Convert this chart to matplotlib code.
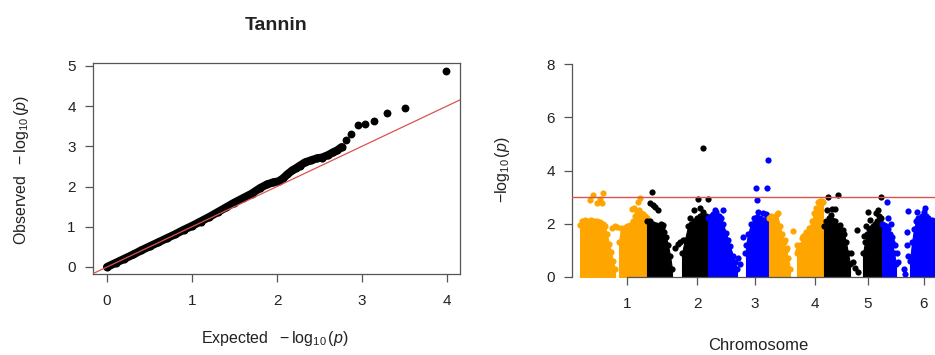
import matplotlib
matplotlib.use('Agg')
import matplotlib.pyplot as plt

plt.rcParams['font.family'] = ['Liberation Sans', 'DejaVu Sans']
plt.rcParams['mathtext.fontset'] = 'custom'
plt.rcParams['mathtext.rm'] = 'Liberation Sans'
plt.rcParams['mathtext.it'] = 'Liberation Sans:italic'
plt.rcParams['mathtext.bf'] = 'Liberation Sans:bold'

# ---------------- QQ plot data ----------------
qq_dense_expected = [0, 0.1, 0.2, 0.31, 0.4, 0.5, 0.6, 0.7, 0.8, 0.9, 1.0, 1.1, 1.2, 1.3,
                     1.4, 1.49, 1.6, 1.7, 1.8, 1.88, 1.95, 2.02, 2.07, 2.12, 2.18, 2.22,
                     2.27, 2.33, 2.4, 2.47, 2.53, 2.6, 2.66, 2.71, 2.76]
qq_dense_observed = [0, 0.1, 0.2, 0.31, 0.41, 0.51, 0.61, 0.71, 0.81, 0.92, 1.02, 1.13, 1.24,
                     1.36, 1.48, 1.59, 1.71, 1.82, 1.96, 2.05, 2.1, 2.13, 2.2, 2.3, 2.4, 2.45,
                     2.52, 2.6, 2.65, 2.7, 2.72, 2.78, 2.85, 2.9, 2.98]
qq_tail_expected = [2.81, 2.87, 2.95, 3.03, 3.14, 3.29, 3.51, 3.99]
qq_tail_observed = [3.15, 3.31, 3.52, 3.56, 3.63, 3.83, 3.96, 4.87]

# ---------------- Manhattan data ----------------
chrom_labels = ['1', '2', '3', '4', '5', '6']
chrom_tick_pos = [55, 125, 183, 243, 296, 352]
chrom_colors = ['#FFA500', '#000000', '#0000FF']
suggestive_line = 3

# dense-cloud upper envelopes (position, -log10 p), two blocks per chromosome
chr1a_pos = [8, 10, 13, 16, 19, 22, 25, 28, 31, 33, 35, 37, 39, 41, 43]
chr1a_top = [1.95, 2.1, 2.15, 2.1, 2.15, 2.1, 2.1, 2.05, 2.0, 1.9, 1.6, 1.25, 0.95, 0.6, 0.3]
chr1b_pos = [47, 49, 52, 55, 58, 61, 63, 65, 67, 69, 71, 73, 75]
chr1b_top = [1.3, 1.85, 1.85, 1.9, 1.95, 2.1, 2.3, 2.45, 2.5, 2.4, 2.35, 2.3, 2.2]
chr2a_pos = [75, 78, 81, 84, 87, 90, 92, 94, 96, 98, 100]
chr2a_top = [2.1, 2.1, 2.0, 1.95, 1.9, 1.85, 1.7, 1.5, 1.2, 0.8, 0.3]
chr2b_pos = [110, 113, 116, 119, 122, 125, 128, 131, 134, 136]
chr2b_top = [0.9, 1.4, 1.9, 2.0, 2.1, 2.2, 2.3, 2.45, 2.3, 2.2]
chr3a_pos = [136, 139, 141, 144, 147, 149, 151, 154, 156, 158, 161, 163, 165]
chr3a_top = [2.2, 2.3, 2.35, 2.45, 2.3, 2.2, 2.0, 1.65, 1.4, 1.15, 0.8, 0.55, 0.3]
chr3b_pos = [174, 176, 179, 182, 185, 188, 191, 194, 196]
chr3b_top = [1.2, 1.6, 2.0, 2.2, 2.25, 2.2, 2.15, 2.35, 2.3]
chr4a_pos = [197, 199, 202, 205, 208, 210, 212, 214, 216, 218]
chr4a_top = [2.2, 2.3, 2.25, 2.35, 1.9, 1.6, 1.3, 1.0, 0.7, 0.3]
chr4b_pos = [225, 228, 231, 234, 237, 240, 242, 244, 246, 248, 250, 251]
chr4b_top = [0.9, 1.2, 1.55, 1.7, 1.85, 2.1, 2.4, 2.6, 2.8, 2.85, 2.85, 2.8]
chr5a_pos = [252, 254, 257, 260, 263, 266, 269, 272, 274, 276, 278]
chr5a_top = [1.9, 2.1, 2.2, 2.15, 2.1, 1.9, 1.75, 1.6, 1.3, 0.9, 0.5]
chr5b_pos = [291, 293, 295, 297, 299, 301, 303, 305, 307, 309, 310]
chr5b_top = [0.9, 1.3, 1.6, 1.8, 1.85, 1.9, 2.0, 2.1, 2.3, 2.2, 2.0]
chr6a_pos = [310, 312, 314, 316, 318, 320, 322, 324]
chr6a_top = [2.0, 1.95, 1.9, 1.8, 1.6, 1.3, 0.9, 0.5]
chr6b_pos = [338, 340, 342, 344, 346, 348, 350, 352, 354, 356, 358, 360, 362, 366]
chr6b_top = [0.6, 1.3, 1.8, 2.1, 2.2, 2.2, 2.3, 2.45, 2.3, 2.2, 2.1, 2.15, 2.1, 2.1]

# individual SNPs standing out from the clouds
chr1_snp_pos = [18, 21.3, 24.7, 28, 29.7, 31.3, 40, 43, 45, 60, 62, 66.3, 68, 36, 38]
chr1_snp_logp = [2.89, 3.08, 2.77, 2.93, 2.77, 3.14, 1.85, 1.9, 1.88, 2.55, 2.6, 2.8, 2.95, 1.2, 0.5]
chr2_snp_pos = [79.7, 78, 81, 83, 86.3, 103, 106, 108, 111, 126.3, 131.3, 136.3, 128, 122, 118, 89, 91]
chr2_snp_logp = [3.18, 2.77, 2.7, 2.64, 2.52, 1.1, 1.25, 1.3, 1.4, 2.93, 4.86, 2.93, 2.6, 2.5, 2.2, 2.0, 1.95]
chr3_snp_pos = [151.3, 143, 183.7, 184.7, 194.7, 195.7, 171.3, 173, 168, 166, 186, 191]
chr3_snp_logp = [2.52, 2.5, 3.33, 2.89, 3.35, 4.39, 1.5, 0.9, 0.5, 0.7, 2.45, 2.4]
chr4_snp_pos = [221.3, 226, 224.7, 233, 236, 230, 213, 215, 206.3]
chr4_snp_logp = [1.73, 1.0, 1.2, 1.57, 1.6, 1.45, 1.4, 1.1, 2.4]
chr5_snp_pos = [256.3, 266.3, 259.7, 263, 258.7, 255, 271.3, 281.3, 283, 284.7, 279, 286, 268,
                296.3, 298, 306.3, 308.7, 294, 292, 304]
chr5_snp_logp = [3.02, 3.08, 2.55, 2.55, 2.33, 2.5, 1.75, 0.57, 0.32, 1.76, 0.9, 0.2, 1.95,
                 2.43, 2.13, 2.52, 2.99, 1.9, 1.55, 2.4]
chr6_snp_pos = [314.7, 316.3, 318.5, 323, 324.7, 326.3, 320, 336.3, 334.7, 334.7, 333, 336,
                344.7, 353, 331.5]
chr6_snp_logp = [2.82, 2.2, 2.0, 1.2, 0.9, 0.57, 1.5, 2.48, 1.7, 1.2, 0.1, 0.8, 2.43, 2.58, 0.3]

# ---------------- figure ----------------
W, H = 935, 355
fig = plt.figure(figsize=(W / 100, H / 100), dpi=100)
AX_COL = '#555555'
TXT_COL = '#222222'


def px_axes(x0, x1, y0, y1):
    return fig.add_axes([x0 / W, 1 - y1 / H, (x1 - x0) / W, (y1 - y0) / H])


def px_text(x, y, s, **kw):
    fig.text(x / W, 1 - y / H, s, ha='center', va='center', color=TXT_COL, **kw)


# ---- QQ plot ----
ax1 = px_axes(93, 460, 63, 274)
ax1.plot(qq_dense_expected, qq_dense_observed, color='black', lw=5.8,
         solid_capstyle='round', zorder=2)
ax1.scatter(qq_dense_expected, qq_dense_observed, s=34, color='black', lw=0, zorder=2)
ax1.scatter(qq_tail_expected, qq_tail_observed, s=32, color='black', lw=0, zorder=2)
ax1.axline((0, 0), slope=1, color='#d9534f', lw=0.9, zorder=3)
ax1.set_xlim(-0.165, 4.153)
ax1.set_ylim(-0.175, 5.07)
ax1.set_xticks([0, 1, 2, 3, 4])
ax1.set_yticks([0, 1, 2, 3, 4, 5])
for sp in ax1.spines.values():
    sp.set_color(AX_COL)
    sp.set_linewidth(0.9)
ax1.tick_params(axis='both', direction='out', length=5.5, width=0.9, color=AX_COL,
                labelsize=11, labelcolor=TXT_COL)
ax1.tick_params(axis='x', pad=9)
ax1.tick_params(axis='y', pad=7)

px_text(276.5, 25, 'Tannin', fontsize=14, fontweight='bold')
px_text(275, 339, r'Expected $\ -\log_{10}(p)$', fontsize=11.5)
px_text(22, 170, r'Observed $\ -\log_{10}(p)$', fontsize=11.5, rotation=90)

# ---- Manhattan plot ----
ax2 = px_axes(572, 935, 64, 277)
segments = [
    (0, chr1a_pos, chr1a_top), (0, chr1b_pos, chr1b_top),
    (1, chr2a_pos, chr2a_top), (1, chr2b_pos, chr2b_top),
    (2, chr3a_pos, chr3a_top), (2, chr3b_pos, chr3b_top),
    (3, chr4a_pos, chr4a_top), (3, chr4b_pos, chr4b_top),
    (4, chr5a_pos, chr5a_top), (4, chr5b_pos, chr5b_top),
    (5, chr6a_pos, chr6a_top), (5, chr6b_pos, chr6b_top),
]
snps = [
    (0, chr1_snp_pos, chr1_snp_logp), (1, chr2_snp_pos, chr2_snp_logp),
    (2, chr3_snp_pos, chr3_snp_logp), (3, chr4_snp_pos, chr4_snp_logp),
    (4, chr5_snp_pos, chr5_snp_logp), (5, chr6_snp_pos, chr6_snp_logp),
]
MS = 20
for ci, pos, top in segments:
    col = chrom_colors[ci % 3]
    ax2.fill_between(pos, 0, top, facecolor=col, edgecolor=col, lw=0.8, zorder=2)
    ax2.scatter(pos, top, s=MS, color=col, lw=0, zorder=2)
for ci, pos, val in snps:
    col = chrom_colors[ci % 3]
    ax2.scatter(pos, val, s=MS, color=col, lw=0, zorder=2)

ax2.axhline(suggestive_line, color='#d9534f', lw=1.0, zorder=3)
ax2.set_xlim(0, 363)
ax2.set_ylim(0, 8)
ax2.set_yticks([0, 2, 4, 6, 8])
ax2.set_xticks(chrom_tick_pos)
ax2.set_xticklabels(chrom_labels)
for s in ['top', 'right']:
    ax2.spines[s].set_visible(False)
ax2.spines['left'].set_color(AX_COL)
ax2.spines['left'].set_linewidth(0.9)
ax2.spines['bottom'].set_color(AX_COL)
ax2.spines['bottom'].set_linewidth(0.9)
ax2.spines['bottom'].set_bounds(chrom_tick_pos[0], 363)
ax2.tick_params(axis='both', direction='out', length=5.5, width=0.9, color=AX_COL,
                labelsize=11, labelcolor=TXT_COL)
ax2.tick_params(axis='x', pad=9)
ax2.tick_params(axis='y', pad=7)

px_text(503, 170, r'$-\log_{10}(p)$', fontsize=11.5, rotation=90)
px_text(758, 346, 'Chromosome', fontsize=12)

fig.savefig('out.png', dpi=100)
